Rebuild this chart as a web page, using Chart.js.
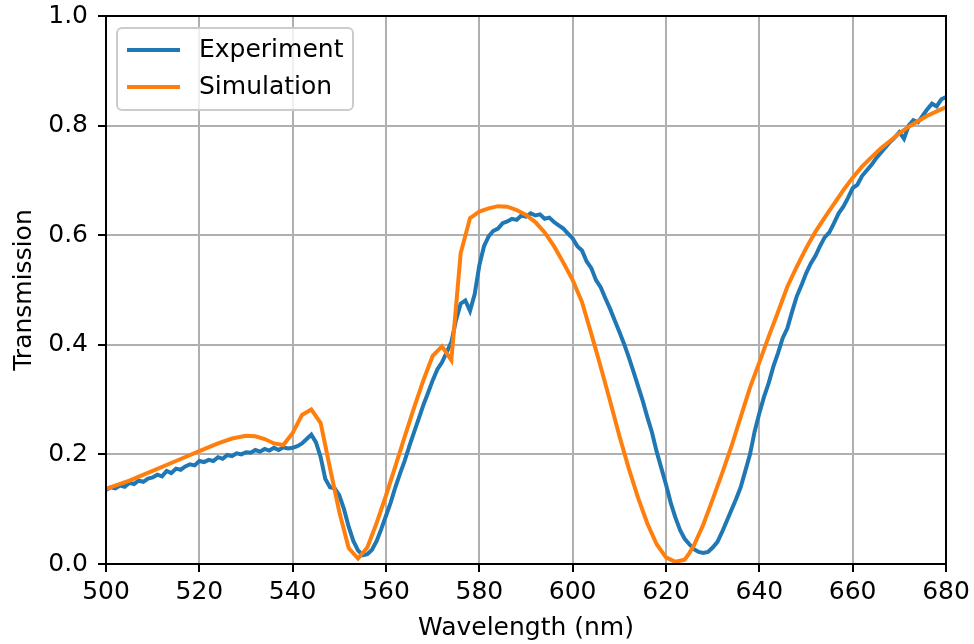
<!DOCTYPE html>
<html lang="en">
<head>
    <meta charset="UTF-8">
    <title>Transmission spectrum</title>
    <script src="https://cdn.jsdelivr.net/npm/chart.js"></script>
    <style>
        body {
            margin: 0;
            padding: 0;
            background-color: #ffffff;
        }

        #chart-container {
            width: 974px;
            height: 644px;
        }
    </style>
</head>
<body>

    <div id="chart-container">
        <canvas id="spectrum-chart"></canvas>
    </div>

    <script>
        const expWavelength = [
            500, 501, 502, 503, 504, 505, 506, 507, 508, 509,
            510, 511, 512, 513, 514, 515, 516, 517, 518, 519,
            520, 521, 522, 523, 524, 525, 526, 527, 528, 529,
            530, 531, 532, 533, 534, 535, 536, 537, 538, 539,
            540, 541, 542, 543, 544, 545, 546, 547, 548, 549,
            550, 551, 552, 553, 554, 555, 556, 557, 558, 559,
            560, 561, 562, 563, 564, 565, 566, 567, 568, 569,
            570, 571, 572, 573, 574, 575, 576, 577, 578, 579,
            580, 581, 582, 583, 584, 585, 586, 587, 588, 589,
            590, 591, 592, 593, 594, 595, 596, 597, 598, 599,
            600, 601, 602, 603, 604, 605, 606, 607, 608, 609,
            610, 611, 612, 613, 614, 615, 616, 617, 618, 619,
            620, 621, 622, 623, 624, 625, 626, 627, 628, 629,
            630, 631, 632, 633, 634, 635, 636, 637, 638, 639,
            640, 641, 642, 643, 644, 645, 646, 647, 648, 649,
            650, 651, 652, 653, 654, 655, 656, 657, 658, 659,
            660, 661, 662, 663, 664, 665, 666, 667, 668, 669,
            670, 671, 672, 673, 674, 675, 676, 677, 678, 679,
            680
        ];
        const expTransmission = [
            0.135, 0.140, 0.138, 0.143, 0.141, 0.148, 0.146, 0.152, 0.150, 0.156,
            0.158, 0.163, 0.160, 0.170, 0.166, 0.174, 0.172, 0.178, 0.182, 0.180,
            0.188, 0.186, 0.190, 0.188, 0.195, 0.192, 0.199, 0.197, 0.202, 0.200,
            0.204, 0.203, 0.208, 0.205, 0.210, 0.207, 0.212, 0.208, 0.213, 0.211,
            0.212, 0.215, 0.220, 0.228, 0.236, 0.222, 0.195, 0.155, 0.140, 0.138,
            0.125, 0.100, 0.068, 0.042, 0.025, 0.016, 0.018, 0.026, 0.042, 0.064,
            0.088, 0.112, 0.140, 0.165, 0.188, 0.215, 0.240, 0.265, 0.290, 0.312,
            0.335, 0.355, 0.368, 0.386, 0.405, 0.445, 0.475, 0.481, 0.462, 0.492,
            0.545, 0.580, 0.598, 0.608, 0.612, 0.622, 0.625, 0.630, 0.628, 0.636,
            0.634, 0.640, 0.636, 0.638, 0.630, 0.632, 0.624, 0.618, 0.612, 0.603,
            0.594, 0.580, 0.572, 0.552, 0.540, 0.518, 0.505, 0.485, 0.466, 0.445,
            0.424, 0.402, 0.378, 0.352, 0.325, 0.298, 0.268, 0.240, 0.205, 0.175,
            0.145, 0.112, 0.085, 0.062, 0.046, 0.036, 0.027, 0.022, 0.020, 0.022,
            0.030, 0.040, 0.058, 0.078, 0.098, 0.118, 0.140, 0.170, 0.200, 0.242,
            0.275, 0.305, 0.330, 0.360, 0.385, 0.412, 0.430, 0.460, 0.488, 0.508,
            0.530, 0.548, 0.562, 0.580, 0.596, 0.605, 0.622, 0.640, 0.652, 0.668,
            0.686, 0.692, 0.708, 0.718, 0.728, 0.740, 0.750, 0.760, 0.770, 0.778,
            0.788, 0.776, 0.800, 0.810, 0.806, 0.818, 0.830, 0.840, 0.835, 0.848,
            0.852
        ];

        // simulated transmission
        const simWavelength = [
            500, 505, 510, 515, 520, 524, 527, 530, 532, 534,
            536, 538, 540, 542, 544, 546, 548, 550, 552, 554,
            556, 558, 560, 562, 564, 566, 568, 570, 572, 574,
            576, 578, 580, 582, 584, 586, 588, 590, 592, 594,
            596, 598, 600, 602, 604, 606, 608, 610, 612, 614,
            616, 618, 620, 622, 624, 625, 626, 628, 630, 632,
            634, 636, 638, 640, 642, 644, 646, 648, 650, 652,
            654, 656, 658, 660, 662, 664, 666, 668, 670, 672,
            674, 676, 678, 680
        ];
        const simTransmission = [
            0.137, 0.152, 0.170, 0.188, 0.206, 0.220, 0.229, 0.234, 0.233, 0.228,
            0.220, 0.217, 0.239, 0.272, 0.282, 0.257, 0.175, 0.095, 0.029, 0.010,
            0.030, 0.075, 0.125, 0.178, 0.232, 0.285, 0.335, 0.380, 0.397, 0.372,
            0.567, 0.631, 0.643, 0.649, 0.653, 0.652, 0.646, 0.637, 0.624, 0.605,
            0.580, 0.550, 0.518, 0.478, 0.420, 0.360, 0.298, 0.234, 0.175, 0.121,
            0.074, 0.036, 0.012, 0.004, 0.008, 0.020, 0.034, 0.072, 0.118, 0.165,
            0.214, 0.268, 0.322, 0.368, 0.415, 0.460, 0.506, 0.542, 0.576, 0.606,
            0.632, 0.657, 0.682, 0.705, 0.725, 0.742, 0.758, 0.772, 0.786, 0.798,
            0.808, 0.818, 0.826, 0.834
        ];

        const seriesNames = ['Experiment', 'Simulation'];
        const seriesColors = ['#1f77b4', '#ff7f0e'];

        const FONT = "'DejaVu Sans', sans-serif";
        const FONT_SIZE = 25;

        function toPoints(xs, ys) {
            return xs.map((x, i) => ({ x: x, y: ys[i] }));
        }

        // black frame around the plot area, like matplotlib spines
        const framePlugin = {
            id: 'frame',
            afterDatasetsDraw(chart) {
                const a = chart.chartArea;
                const ctx = chart.ctx;
                ctx.save();
                ctx.strokeStyle = '#000';
                ctx.lineWidth = 2;
                ctx.strokeRect(a.left, a.top, a.right - a.left, a.bottom - a.top);
                ctx.restore();
            }
        };

        // legend box drawn inside the plot, upper left
        const insideLegend = {
            id: 'insideLegend',
            afterDraw(chart) {
                const ctx = chart.ctx;
                const a = chart.chartArea;
                const x = a.left + 11, y = a.top + 12, w = 236, h = 82;
                ctx.save();
                ctx.beginPath();
                ctx.roundRect(x, y, w, h, 5);
                ctx.fillStyle = 'rgba(255,255,255,0.8)';
                ctx.fill();
                ctx.strokeStyle = '#cccccc';
                ctx.lineWidth = 2;
                ctx.stroke();
                ctx.font = FONT_SIZE + 'px ' + FONT;
                ctx.textBaseline = 'middle';
                chart.data.datasets.forEach((ds, i) => {
                    const rowY = y + 22 + i * 37;
                    ctx.beginPath();
                    ctx.moveTo(x + 10, rowY);
                    ctx.lineTo(x + 63, rowY);
                    ctx.strokeStyle = ds.borderColor;
                    ctx.lineWidth = 4;
                    ctx.stroke();
                    ctx.fillStyle = '#000';
                    ctx.fillText(ds.label, x + 82, rowY);
                });
                ctx.restore();
            }
        };

        const chartCanvas = document.getElementById('spectrum-chart');

        new Chart(chartCanvas, {
            type: 'line',
            data: {
                datasets: [{
                    label: seriesNames[0],
                    data: toPoints(expWavelength, expTransmission),
                    borderColor: seriesColors[0],
                    borderWidth: 4,
                    pointRadius: 0,
                    tension: 0,
                    order: 2
                }, {
                    label: seriesNames[1],
                    data: toPoints(simWavelength, simTransmission),
                    borderColor: seriesColors[1],
                    borderWidth: 4,
                    pointRadius: 0,
                    tension: 0,
                    order: 1
                }]
            },
            options: {
                responsive: true,
                maintainAspectRatio: false,
                animation: false,
                layout: {
                    padding: { top: 16, right: 28, left: 0, bottom: 0 }
                },
                plugins: {
                    legend: { display: false },
                    tooltip: { enabled: false }
                },
                scales: {
                    x: {
                        type: 'linear',
                        min: 500,
                        max: 680,
                        afterFit(scale) {
                            scale.height = 80;
                            scale.paddingLeft = 0;
                            scale.paddingRight = 0;
                        },
                        ticks: {
                            stepSize: 20,
                            color: '#000',
                            padding: 5,
                            font: { family: FONT, size: FONT_SIZE }
                        },
                        grid: {
                            color: '#b0b0b0',
                            lineWidth: 2,
                            tickColor: '#000',
                            tickLength: 8,
                            tickWidth: 2
                        },
                        border: { display: false },
                        title: {
                            display: true,
                            text: 'Wavelength (nm)',
                            color: '#000',
                            font: { family: FONT, size: FONT_SIZE },
                            padding: { top: 0, bottom: 1 }
                        }
                    },
                    y: {
                        min: 0,
                        max: 1,
                        afterFit(scale) {
                            scale.width = 106;
                            scale.paddingTop = 0;
                            scale.paddingBottom = 0;
                        },
                        ticks: {
                            stepSize: 0.2,
                            color: '#000',
                            padding: 10,
                            font: { family: FONT, size: FONT_SIZE },
                            callback: (v) => v.toFixed(1)
                        },
                        grid: {
                            color: '#b0b0b0',
                            lineWidth: 2,
                            tickColor: '#000',
                            tickLength: 8,
                            tickWidth: 2
                        },
                        border: { display: false },
                        title: {
                            display: true,
                            text: 'Transmission',
                            color: '#000',
                            font: { family: FONT, size: FONT_SIZE },
                            padding: { top: 9, bottom: 0 }
                        }
                    }
                }
            },
            plugins: [framePlugin, insideLegend]
        });
    </script>

</body>
</html>
